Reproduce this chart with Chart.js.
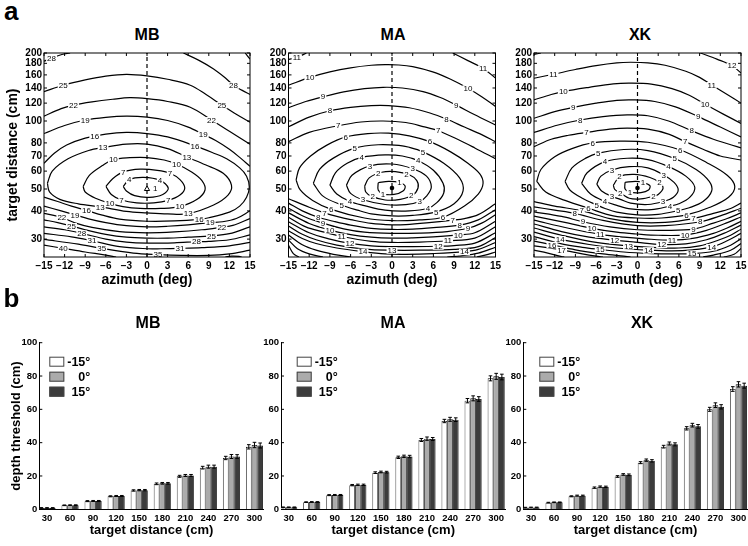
<!DOCTYPE html>
<html>
<head>
<meta charset="utf-8">
<script src="https://cdn.jsdelivr.net/npm/chart.js@4.4.0/dist/chart.umd.min.js"></script>
<style>
body{margin:0;background:#fff;width:748px;height:546px;position:relative;overflow:hidden;font-family:"Liberation Sans",Arial,sans-serif;}
canvas{position:absolute;}
.lbl{position:absolute;font-weight:bold;line-height:1;}
.ttl{position:absolute;width:100px;text-align:center;font-weight:bold;font-size:16px;line-height:1;}
</style>
</head>
<body>
<canvas id="cMB" width="256" height="250" style="left:0;top:45px"></canvas>
<canvas id="cMA" width="256" height="250" style="left:250px;top:45px"></canvas>
<canvas id="cXK" width="253" height="250" style="left:495px;top:45px"></canvas>
<canvas id="bMB" width="270" height="246" style="left:0;top:300px"></canvas>
<canvas id="bMA" width="270" height="246" style="left:245px;top:300px"></canvas>
<canvas id="bXK" width="258" height="246" style="left:490px;top:300px"></canvas>

<div class="lbl" style="left:4px;top:-2.5px;font-size:26px">a</div>
<div class="lbl" style="left:3.5px;top:284.5px;font-size:26px">b</div>
<div class="ttl" style="left:97px;top:27px">MB</div>
<div class="ttl" style="left:343px;top:27px">MA</div>
<div class="ttl" style="left:590px;top:27px">XK</div>
<div class="ttl" style="left:98px;top:315px">MB</div>
<div class="ttl" style="left:343px;top:315px">MA</div>
<div class="ttl" style="left:592px;top:315px">XK</div>

<script>
// axes
var azTicks = [-15,-12,-9,-6,-3,0,3,6,9,12,15];
var distTicks = [30,40,50,60,70,80,100,120,140,160,180,200];

// panel a: contour lines [azimuth, distance]
var mbLines = [
    [[-15,184],[-13.9,190],[-12.4,197],[-11.2,200]],
    [[5.3,200],[7.5,186],[9.7,170],[11.2,157],[12.6,144],[13.8,137],[15,131]],
    [[14.3,200],[15,188]],
    [[-15,135],[-12.2,144],[-9,152],[-6,158],[-3,161],[0,158.5],[3,153],[6.3,144],[8.6,131],[10.9,117.6],[13,107],[15,98.7]],
    [[-15,105],[-12.5,113.5],[-10.7,117.6],[-8,121.5],[-5,124.8],[-2.5,126.8],[0,125.5],[3,122],[6.3,115],[9.4,101],[12,90],[15,79]],
    [[-15,88],[-12,95.5],[-9,101],[-6,103.8],[-3,105],[0,104],[3,100.5],[6,94],[8.2,87.3],[10,82],[12,75],[13.5,69],[15,63]],
    [[-15,65],[-13.5,72],[-11.7,78.3],[-9,84],[-6,87.5],[-3,89],[0,88],[3,85],[7,77.6],[9.5,72.5],[11.6,68],[13.5,62],[14.5,57],[14.9,51],[14.5,46],[13.5,42],[12,39.5],[9,37.3],[7.6,36.7],[4,36.1],[0,36],[-4,36.8],[-6.5,38.3],[-8.8,40.2],[-11,42],[-13,44],[-15,46]],
    [[-14.5,53],[-13.8,60],[-11.5,68],[-8.5,74],[-6.4,76.3],[-3,79],[0,79],[3,75.5],[5.8,69.3],[8.5,64],[11.1,58.7],[12.3,52],[11.8,47],[9.7,42.5],[6,38.9],[3,38.8],[0,39.2],[-3,39.8],[-6.8,41.7],[-10,43],[-12.7,45],[-14.2,48.5],[-14.5,53]],
    [[-9.3,51.3],[-8.4,57.5],[-6.5,63.5],[-4.9,67.5],[-2.5,68.8],[0,68.9],[2.5,67.2],[4.3,64.5],[6.5,59.5],[8,54.5],[8.45,49.5],[7.3,45],[4.8,41.8],[2,41],[-1,41],[-3.5,41.8],[-5.4,43.2],[-7.5,45.5],[-9,48.5],[-9.3,51.3]],
    [[-5.97,51.3],[-5,55.5],[-3.45,59.5],[-1,61.2],[1.5,60.5],[3.35,58.7],[4.8,55],[5.5,50.5],[4.8,47],[3.1,44.5],[1,43.4],[-1.5,43.4],[-3.7,44.7],[-5.2,47.3],[-5.97,51.3]],
    [[-3.45,51.3],[-2.6,55],[-0.5,56.3],[1.9,54.6],[3.1,50.4],[2.3,47.3],[0.3,45.9],[-1.8,46.7],[-3,49],[-3.45,51.3]],
    [[15,40],[13,37],[11,35.8],[9.2,35.5],[6,34.7],[3,34.2],[0,34],[-3,34.4],[-6,35.5],[-8.5,36.9],[-10.5,38.4],[-12.5,40],[-15,42]],
    [[15,37],[12.5,34.5],[10.9,33.9],[8,33],[4,32.3],[0,32],[-4,32.4],[-8,33.8],[-10.5,35.4],[-12.4,37.4],[-15,39]],
    [[15,34],[12,31.7],[9.4,31],[6,30.6],[3,30.3],[0,30.3],[-3,30.6],[-6,31.5],[-9,33],[-11,34.3],[-13,35.5],[-15,36.5]],
    [[15,31.3],[12,29.8],[9,29.3],[7.2,29.2],[4,28.9],[0,28.8],[-3,29.1],[-6,30],[-9.5,31.8],[-12,33],[-15,34]],
    [[15,29],[12,28],[8,27.5],[4.8,27.3],[2,27.2],[0,27.2],[-4,27.8],[-8,29.5],[-11,30.7],[-15,31.8]],
    [[15,26.8],[12,25.8],[9,25.4],[5,25.4],[1.6,25.6],[-2,26],[-6.6,27.3],[-10,28.5],[-15,29.9]],
    [[-15,28.2],[-12.2,27.3],[-9,26.3],[-6,25.5],[-4.5,25]],
    [[11.4,25],[12.3,25.2],[13.4,25.15],[13.8,25]]
];
var mbText = [
    ['28',-13.9,190],['25',-12.2,144],['22',-10.7,117.6],['19',-9,101],['16',-7.6,85.8],['13',-6.4,76.3],['10',-4.9,67.5],['7',-3.45,59.5],['4',-2.6,55],['1',1.2,50.2],
    ['4',1.9,54.6],['7',3.35,58.7],['10',4.3,64.5],['13',5.8,69.3],['16',7,77.6],['19',8.2,87.3],['22',9.4,101],['25',10.9,117.6],['28',12.6,144],
    ['7',-3.7,44.7],['10',-5.4,43.2],['13',-6.8,41.7],['16',-8.8,40.2],['19',-10.5,38.4],['22',-12.4,37.4],['25',-11,34.3],['28',-9.5,31.8],['31',-8,29.5],['35',-6.6,27.3],['40',-12.2,27.3],
    ['7',3.1,44.5],['10',4.8,41.8],['13',6,38.9],['16',7.6,36.7],['19',9.2,35.5],['22',10.9,33.9],['25',9.4,31],['28',7.2,29.2],['31',4.8,27.3],['35',1.6,25.6]
];

var maLines = [
    [[-15,187],[-13.8,191],[-12.4,200]],
    [[8.8,200],[11,185],[13.2,171],[15,155]],
    [[-15,144],[-11.9,156],[-9,165],[-6,172],[-3,176.5],[-1,177.5],[1,177],[3,174],[5.9,165],[8.5,153],[11,139.6],[13,128],[15,116]],
    [[-15,114.5],[-12.5,122],[-10,128],[-7,134.5],[-4,139],[-1.3,141],[1.5,140],[4.5,135],[7,127],[9.3,117.6],[12,106.5],[15,96]],
    [[-15,94.3],[-12,104],[-9,111],[-6,115],[-3,117],[-0.5,117],[2.5,114.5],[5.5,108.5],[7.9,102],[10.5,94],[13,87],[15,81]],
    [[-15,81],[-12,89],[-7.8,95.3],[-4.5,99],[-1.3,100],[2,98.5],[4.5,94.5],[6.7,90.5],[9.5,83],[12,76],[15,68]],
    [[-13.9,54.8],[-13.4,62],[-11.8,70],[-9.5,78],[-6.7,85],[-3.5,88],[-0.5,88.3],[2.5,86],[5.5,81],[8.5,73],[11,65],[12.7,58.5],[13.2,53],[12.5,47.5],[10.5,42],[7.4,37.5],[4,36.5],[0,36.2],[-4,37.2],[-8.8,40.6],[-11.5,44.5],[-13.3,49.5],[-13.9,54.8]],
    [[-11.4,53],[-10.5,61],[-8.5,68.5],[-5.4,75.8],[-2,78.5],[1,78],[2.5,76.5],[4.5,73],[7.5,65],[9.8,56],[10.3,49],[9,43],[6.4,39.6],[3,38.2],[0,38],[-3,38.8],[-5,40.3],[-7.3,42.5],[-10,46.5],[-11.4,53]],
    [[-9,52],[-8.2,59],[-6.5,65],[-4.4,69],[-1,70.8],[1.5,70],[3.8,66.7],[6,60.5],[7.4,53],[7.5,48],[6.5,43.5],[5.2,41.1],[2.5,40],[-1,40.3],[-4,42.2],[-6.1,44],[-8,47.5],[-9,52]],
    [[-6.6,52],[-5.8,57.5],[-3.2,63.3],[0,64.5],[3,61.5],[5,57],[5.7,51],[5,46.5],[4,44],[2,42.6],[-1,42.7],[-4.2,44.8],[-6,47.8],[-6.6,52]],
    [[-3.96,51.5],[-3.3,56],[-1.5,59.3],[0.5,59.7],[2.5,57.8],[3.6,54.5],[3.77,50.5],[3,47],[1.2,45],[-1,44.7],[-3,46.5],[-3.8,48.5],[-3.96,51.5]],
    [[-2,53.3],[-0.5,54],[1.1,53.4],[1.9,51.5],[1.6,49],[0.3,47.3],[-1.3,47.6],[-2,49.5],[-2,53.3]],
    [[15,43],[12.5,38.5],[10.5,37],[8.8,36.4],[5,35.4],[2,34.8],[0,34.7],[-3,35.2],[-6,36.6],[-8,37.8],[-9.8,39.2],[-12,41.5],[-15,45.3]],
    [[15,40.5],[12.5,36.5],[9.8,34.6],[6,33.7],[3,33.2],[0,33.1],[-3,33.5],[-6,34.6],[-8.5,36],[-10.7,37.5],[-13,40],[-15,43.3]],
    [[15,38.5],[13,35.3],[11,33.5],[8,32.4],[4,31.9],[0,31.8],[-4,32.2],[-7,33.3],[-10,35.3],[-12.5,37.5],[-15,41.1]],
    [[15,36],[12,32],[9.6,31.3],[6,30.7],[3,30.4],[0,30.3],[-3,30.6],[-6,31.4],[-9,32.9],[-12,35.2],[-15,39.2]],
    [[15,34],[12,30.3],[8.1,29.5],[4,29.1],[0,29],[-3,29.3],[-7.3,30.8],[-10,32.3],[-12.5,34],[-15,37.5]],
    [[15,32],[12,28.8],[9,28.1],[6.7,27.9],[3,27.8],[0,27.8],[-3,28],[-6.1,28.7],[-9,30],[-12,32],[-15,35.8]],
    [[15,30.5],[12.5,27.8],[9,27],[4,26.8],[0,26.8],[-4,27.1],[-8,28.2],[-11,29.8],[-13,31.5],[-15,34.3]],
    [[15,29],[12.5,27],[10.5,26.4],[6,25.9],[2,25.7],[-1,25.8],[-4.2,26.4],[-8,27.4],[-11,28.7],[-13,30.2],[-15,32.7]],
    [[15,27.6],[12.5,26],[10,25.3],[8,25]],
    [[-6,25],[-8.5,25.7],[-11,26.8],[-13,28.3],[-15,31.3]],
    [[15,26.3],[13.5,25.5],[12.3,25]],
    [[-10,25],[-12,25.8],[-13.7,27.2],[-15,29.7]],
    [[-13.5,25],[-14.3,25.9],[-15,28.2]]
];
var maText = [
    ['11',-13.8,191],['10',-11.9,156],['9',-10,128],['8',-9,111],['7',-7.8,95.3],['6',-6.7,85],['5',-5.4,75.8],['4',-4.4,69],['3',-3.2,63.3],['2',-2,58.4],
    ['11',13.2,171],['10',11,139.6],['9',9.3,117.6],['8',7.9,102],['7',6.7,90.5],['6',5.5,81],['5',4.5,73],['4',3.8,66.7],['3',3,61.5],['2',2.1,58],['1',1.1,53.4],
    ['1',-1.3,47.6],['2',-2.8,46.3],['3',-4.2,44.8],['4',-6.1,44],['5',-7.3,42.5],['6',-8.8,40.6],['7',-9.8,39.2],['8',-10.7,37.5],['9',-10,35.3],['10',-9,32.9],['11',-7.3,30.8],['12',-6.1,28.7],['14',-4.2,26.4],['13',0,26.8],
    ['2',2.8,46.8],['3',4,44],['4',5.2,41.1],['5',6.4,39.6],['6',7.4,37.5],['7',8.8,36.4],['8',9.8,34.6],['9',11,33.5],['10',9.6,31.3],['11',8.1,29.5],['12',6.7,27.9],['14',10.5,26.4]
];

var xkLines = [
    [[-15,197],[-14,200]],
    [[9.1,200],[11.5,188],[13.7,176],[15,163]],
    [[-15,154.6],[-12.2,161],[-9,169],[-6,176],[-3,181],[-1,182],[1.5,181],[4,176.5],[7,166],[9,156],[10.75,144.3],[13,131],[15,120]],
    [[-15,124],[-12.5,131],[-10.75,135],[-7,141],[-3.5,146],[-1,147],[2,145.5],[5,139],[7.5,130],[9.8,118.6],[12.5,107],[15,97.6]],
    [[-15,102.8],[-12,110],[-9.3,115],[-6,120],[-3,123.5],[-0.5,124],[2.5,122],[5.5,115.5],[8.8,104.6],[12,94],[15,85]],
    [[-15,89],[-11.5,96],[-8.3,101],[-5,104.5],[-1.5,106.4],[1.5,105.5],[4.5,100],[7.85,90.5],[11,83],[15,76]],
    [[-15,77],[-12.5,83],[-10,86.5],[-7.4,89],[-4,92],[-1.5,93],[1.5,92],[4.5,87.5],[6.9,81],[9.5,75],[12,70],[15,67.2]],
    [[-14.6,54],[-14,61],[-12,69.5],[-9.5,75.5],[-6.5,80],[-2.5,81.5],[1.5,80.5],[6.2,74.4],[10,65.5],[13,57.5],[14.1,51.3],[13.2,46],[10.5,41.5],[7.1,38.4],[3.5,37.2],[0,37.2],[-3.5,38],[-7.1,41.1],[-10.5,44.5],[-13.3,48.5],[-14.6,54]],
    [[-10.5,54],[-9.5,62],[-7.5,68.5],[-5.7,72.1],[-2,74.8],[1.5,74],[5.4,68.2],[8.5,61],[10.4,54],[10.75,49],[9.5,44],[7.5,41.3],[5.9,40.1],[3,38.6],[0,38.4],[-3,39.5],[-4.7,41],[-5.9,42.5],[-8,45.5],[-9.8,49.5],[-10.5,54]],
    [[-8.1,53],[-7.3,59],[-4.7,66.1],[-1.5,68.4],[1.5,67.5],[4.5,62.8],[7,57],[8.3,51],[7.6,46],[6,43],[4.7,42],[2,40.5],[-1,40.8],[-3,42.3],[-4.7,44],[-6.8,47.5],[-8.1,53]],
    [[-5.9,52.5],[-5.3,57],[-3.7,60.7],[-1.2,62.8],[1.5,62],[3.8,57.7],[5.3,53.5],[5.9,49.5],[5.2,46],[3.7,44],[1.5,42.7],[-1,43.3],[-2.5,45],[-3.7,46.4],[-5.2,49],[-5.9,52.5]],
    [[-3.5,52],[-2.6,56.7],[-0.5,58],[1.8,56.2],[3.2,53.4],[3.7,50.3],[3,47.3],[2.3,46.4],[0.5,45.2],[-1.2,45.5],[-2.5,48],[-3.3,49.8],[-3.5,52]],
    [[-1.8,53.5],[-0.3,54],[0.8,53.4],[1.8,51.8],[1.6,49.5],[0.5,48.2],[-1.1,48.4],[-1.8,50],[-1.8,53.5]],
    [[-15,44],[-12,42],[-8.1,40.1],[-4,37],[0,35.6],[4,35.6],[8.1,37],[11,39],[13.5,41],[15,43.3]],
    [[-15,41.7],[-12,40.3],[-9.1,39],[-5,36.3],[0,34.4],[4,34.4],[9.1,35.8],[12,38],[15,41.1]],
    [[-15,39.6],[-11,37.8],[-7.9,35.8],[-4,34],[0,33],[4,32.8],[8.1,33.2],[11,35.3],[13,37],[15,39.2]],
    [[-15,37.9],[-10,35.3],[-6.6,33.5],[-3,32.2],[0,31.6],[3,31.2],[6.9,31.3],[10,32.8],[12.5,35],[15,37.6]],
    [[-15,36.4],[-10,33.5],[-5.4,31.5],[-2,30.6],[1,30.1],[5,29.7],[8,30.2],[11,31.8],[13,33.6],[15,36]],
    [[-15,35],[-11,32.4],[-7,30.6],[-3.3,29.7],[0,29],[3.5,28.4],[7,28.6],[10,29.8],[12.5,31.8],[15,34.6]],
    [[-15,33.6],[-11,31.2],[-6,29],[-1.3,28],[2,27.6],[6,27.4],[9,28],[11.5,29.5],[13.5,31.2],[15,33.2]],
    [[-15,32.2],[-11.2,30],[-7,28.4],[-3,27.4],[1.6,26.8],[5,26.6],[8,26.9],[10.75,27.7],[13,29.5],[15,31.8]],
    [[-15,30.8],[-11,28.6],[-8,27.6],[-5.4,27],[-2,26.3],[2,25.9],[5,25.8],[7.9,25.9],[11,26.5],[13.5,28.2],[15,30.1]],
    [[-15,29.4],[-12.4,28.3],[-9,26.9],[-5,25.8],[-2,25.2],[-1,25]],
    [[9.5,25],[11,25.5],[13.5,26.8],[15,28.7]],
    [[-15,28],[-11,26.9],[-8,25.8],[-6,25.2],[-5,25]],
    [[12.5,25],[14,25.7],[15,27.3]],
    [[-15,26.8],[-13,26],[-11,25.1],[-10.6,25]]
];
var xkText = [
    ['11',-12.2,161],['10',-10.75,135],['9',-9.3,115],['8',-8.3,101],['7',-7.4,89],['6',-6.5,80],['5',-5.7,72.1],['4',-4.7,66.1],['3',-3.7,60.7],['2',-2.6,56.7],
    ['12',13.7,176],['11',10.75,144.3],['10',9.8,118.6],['9',8.8,104.6],['8',7.85,90.5],['7',6.9,81],['6',6.2,74.4],['5',5.4,68.2],['4',4.5,62.8],['3',3.8,57.7],['2',3.2,53.4],['1',0.8,53.4],
    ['1',-1.1,48.4],['2',-2.5,48],['3',-3.7,46.4],['4',-4.7,44],['5',-5.9,42.5],['6',-7.1,41.1],['7',-8.1,40.1],['8',-9.1,39],['9',-7.9,35.8],['10',-6.6,33.5],['11',-5.4,31.5],['12',-3.3,29.7],['13',-1.3,28],['14',-11.2,30],['15',-5.4,27],['16',-12.4,28.3],['17',-11,26.9],
    ['2',2.3,46.4],['3',3.7,44],['4',4.7,42],['5',5.9,40.1],['6',7.1,38.4],['7',8.1,37],['8',9.1,35.8],['9',8.1,33.2],['10',6.9,31.3],['11',5,29.7],['12',3.5,28.4],['14',1.6,26.8],['14',10.75,27.7],['15',7.9,25.9]
];

// panel b: depth thresholds (cm)
var distances = [30,60,90,120,150,180,210,240,270,300];
var catPos = [1,2,3,4,5,6,7,8,9,10];
var angleNames = ['-15\u00b0','0\u00b0','15\u00b0'];
var barColors = ['#ffffff','#ababab','#3c3c3c'];

var mbM15 = [0.8,2.4,4.9,7.8,11.3,15.3,19.8,25.0,30.8,37.5];
var mbZero = [0.8,2.5,5.0,8.0,11.5,15.6,20.3,25.6,31.7,38.6];
var mbP15 = [0.8,2.5,5.0,8.0,11.5,15.6,20.3,25.6,31.7,38.3];
var mbErrM15 = [0.2,0.2,0.3,0.3,0.4,0.5,0.6,0.8,1.0,1.3];
var mbErrZero = [0.2,0.2,0.3,0.3,0.4,0.5,0.6,0.9,1.2,1.6];
var mbErrP15 = [0.2,0.2,0.3,0.3,0.4,0.5,0.6,0.9,1.1,1.5];

var maM15 = [1.2,4.3,8.5,14.5,22.0,31.2,41.6,53.0,65.2,78.6];
var maZero = [1.2,4.4,8.6,14.7,22.4,31.8,42.4,54.0,66.6,79.8];
var maP15 = [1.2,4.4,8.6,14.7,22.3,31.7,42.2,53.8,66.2,79.4];
var maErrM15 = [0.2,0.2,0.3,0.4,0.5,0.7,0.9,1.0,1.3,1.5];
var maErrZero = [0.2,0.2,0.3,0.4,0.5,0.7,1.0,1.2,1.5,1.8];
var maErrP15 = [0.2,0.2,0.3,0.4,0.5,0.7,0.9,1.1,1.4,1.7];

var xkM15 = [1.0,4.0,7.8,13.0,19.7,28.0,37.6,48.6,60.0,72.2];
var xkZero = [1.1,4.2,8.2,13.6,20.9,29.5,39.5,50.5,62.5,75.0];
var xkP15 = [1.1,4.2,8.2,13.5,20.7,29.1,39.0,49.8,61.5,74.2];
var xkErrM15 = [0.2,0.2,0.3,0.4,0.5,0.6,0.8,1.0,1.2,1.4];
var xkErrZero = [0.2,0.2,0.3,0.4,0.5,0.7,0.9,1.1,1.4,1.6];
var xkErrP15 = [0.2,0.2,0.3,0.4,0.5,0.7,0.9,1.1,1.3,1.5];

var fontFam = '"Liberation Sans", Arial, sans-serif';
Chart.defaults.font.family = fontFam;
Chart.defaults.color = '#000';

// box + inward ticks like matlab
var framePlugin = {
    id: 'frame',
    afterDraw: function(chart) {
        var ctx = chart.ctx, a = chart.chartArea, xs = chart.scales.x, ys = chart.scales.y;
        ctx.save();
        ctx.strokeStyle = '#000';
        ctx.lineWidth = 1;
        ctx.strokeRect(a.left, a.top, a.right - a.left, a.bottom - a.top);
        ctx.beginPath();
        xs.ticks.forEach(function(t) {
            var p = xs.getPixelForValue(t.value);
            ctx.moveTo(p, a.bottom); ctx.lineTo(p, a.bottom - 3);
            ctx.moveTo(p, a.top); ctx.lineTo(p, a.top + 3);
        });
        ys.ticks.forEach(function(t) {
            var p = ys.getPixelForValue(t.value);
            ctx.moveTo(a.left, p); ctx.lineTo(a.left + 3, p);
            ctx.moveTo(a.right, p); ctx.lineTo(a.right - 3, p);
        });
        ctx.stroke();
        ctx.restore();
    }
};

function labelPlugin(labels) {
    return {
        id: 'clabels',
        afterDatasetsDraw: function(chart) {
            var ctx = chart.ctx, a = chart.chartArea, xs = chart.scales.x, ys = chart.scales.y;
            ctx.save();
            ctx.beginPath();
            ctx.rect(a.left, a.top, a.right - a.left, a.bottom - a.top);
            ctx.clip();
            ctx.font = '8px ' + fontFam;
            ctx.textAlign = 'center';
            ctx.textBaseline = 'middle';
            labels.forEach(function(l) {
                var px = xs.getPixelForValue(l[1]), py = ys.getPixelForValue(l[2]);
                var w = ctx.measureText(l[0]).width;
                ctx.fillStyle = '#fff';
                ctx.fillRect(px - w / 2 - 1, py - 3, w + 2, 6.5);
                ctx.fillStyle = '#000';
                ctx.fillText(l[0], px, py + 0.5);
            });
            ctx.restore();
        }
    };
}

function contourChart(id, lines, labels, dot, yTitle, yWidth, padRight) {
    var sets = [];
    lines.forEach(function(line) {
        sets.push({
            data: line.map(function(p) { return {x: p[0], y: p[1]}; }),
            borderColor: '#000', borderWidth: 1.2, pointRadius: 0, tension: 0.35, fill: false
        });
    });
    // dashed line at 0 deg
    sets.push({data: [{x: 0, y: 25}, {x: 0, y: 200}], borderColor: '#000', borderWidth: 1.2, borderDash: [4, 3], pointRadius: 0});
    if (dot == 'triangle') {
        sets.push({data: [{x: 0, y: 50}], showLine: false, pointStyle: 'triangle', pointRadius: 3, pointBorderColor: '#000', pointBackgroundColor: '#fff', pointBorderWidth: 1});
    } else {
        sets.push({data: [{x: 0, y: 50.5}], showLine: false, pointStyle: 'circle', pointRadius: 2.3, pointBorderColor: '#000', pointBackgroundColor: '#000', pointBorderWidth: 0});
    }
    new Chart(document.getElementById(id), {
        type: 'line',
        data: {datasets: sets},
        options: {
            responsive: false,
            animation: false,
            devicePixelRatio: 1,
            layout: {padding: {left: 0, top: 8, right: padRight, bottom: 0}},
            plugins: {legend: {display: false}, tooltip: {enabled: false}},
            scales: {
                x: {
                    type: 'linear', min: -15, max: 15, offset: false,
                    grid: {display: false, drawTicks: false}, border: {display: false},
                    afterBuildTicks: function(s) { s.ticks = azTicks.map(function(v) { return {value: v}; }); },
                    afterFit: function(s) { s.height = 38; s.paddingLeft = 0; s.paddingRight = 0; },
                    ticks: {autoSkip: false, maxRotation: 0, minRotation: 0, padding: 3, font: {size: 10, weight: 'bold'},
                        callback: function(v) { return v < 0 ? '\u2212' + (-v) : String(v); }},
                    title: {display: true, text: 'azimuth (deg)', font: {size: 14, weight: 'bold'}, padding: {top: 0, bottom: 6}}
                },
                y: {
                    type: 'logarithmic', min: 25, max: 200,
                    grid: {display: false, drawTicks: false}, border: {display: false},
                    afterBuildTicks: function(s) { s.ticks = distTicks.map(function(v) { return {value: v}; }); },
                    afterFit: function(s) { s.width = yWidth; s.paddingTop = 0; s.paddingBottom = 0; },
                    ticks: {autoSkip: false, padding: 2, font: {size: 10, weight: 'bold'},
                        callback: function(v) { return String(v); }},
                    title: {display: yTitle, text: 'target distance (cm)', font: {size: 14, weight: 'bold'}, padding: {top: 4.6, bottom: 0}}
                }
            }
        },
        plugins: [framePlugin, labelPlugin(labels)]
    });
}

function errPlugin(errs) {
    return {
        id: 'errbars',
        afterDatasetsDraw: function(chart) {
            var ctx = chart.ctx, ys = chart.scales.y;
            ctx.save();
            ctx.strokeStyle = '#000';
            ctx.lineWidth = 1;
            ctx.beginPath();
            chart.data.datasets.forEach(function(ds, i) {
                chart.getDatasetMeta(i).data.forEach(function(bar, j) {
                    var v = ds.data[j].y, e = errs[i][j];
                    var t = ys.getPixelForValue(v + e), b = ys.getPixelForValue(v - e);
                    ctx.moveTo(bar.x, t); ctx.lineTo(bar.x, b);
                    ctx.moveTo(bar.x - 1.8, t); ctx.lineTo(bar.x + 1.8, t);
                    ctx.moveTo(bar.x - 1.8, b); ctx.lineTo(bar.x + 1.8, b);
                });
            });
            ctx.stroke();
            ctx.restore();
        }
    };
}

function legendPlugin(dx) {
    return {
        id: 'boxlegend',
        afterDraw: function(chart) {
            var ctx = chart.ctx, a = chart.chartArea, ys = chart.scales.y;
            ctx.save();
            // inward ticks on the y axis
            ctx.strokeStyle = '#000';
            ctx.lineWidth = 1;
            ctx.beginPath();
            ys.ticks.forEach(function(t) {
                var p = ys.getPixelForValue(t.value);
                ctx.moveTo(a.left, p); ctx.lineTo(a.left + 3, p);
            });
            ctx.stroke();
            ctx.font = 'bold 12.5px ' + fontFam;
            ctx.textAlign = 'right';
            ctx.textBaseline = 'middle';
            chart.data.datasets.forEach(function(ds, i) {
                var x = a.left + dx, y = a.top + 14 + 15 * i;
                ctx.fillStyle = ds.backgroundColor;
                ctx.fillRect(x, y, 15, 10);
                ctx.strokeStyle = '#444';
                ctx.strokeRect(x + 0.5, y + 0.5, 14, 9);
                ctx.fillStyle = '#000';
                ctx.fillText(ds.label, x + 41, y + 5.5);
            });
            ctx.restore();
        }
    };
}

function barChart(id, vals, errs, yTitle, yWidth, padRight, legendDx) {
    var sets = vals.map(function(v, i) {
        return {
            label: angleNames[i],
            data: v.map(function(y, j) { return {x: catPos[j], y: y}; }),
            backgroundColor: barColors[i], borderColor: '#000', borderWidth: 0.8,
            categoryPercentage: 0.74, barPercentage: 1
        };
    });
    new Chart(document.getElementById(id), {
        type: 'bar',
        data: {datasets: sets},
        options: {
            responsive: false,
            animation: false,
            devicePixelRatio: 1,
            layout: {padding: {left: 0, top: 42.7, right: padRight, bottom: 0}},
            plugins: {legend: {display: false}, tooltip: {enabled: false}},
            scales: {
                x: {
                    type: 'linear', min: 0.665, max: 10.4, offset: false,
                    grid: {display: false, drawTicks: false}, border: {display: true, color: '#000', width: 1},
                    afterBuildTicks: function(s) { s.ticks = catPos.map(function(v) { return {value: v}; }); },
                    afterFit: function(s) { s.height = 36.7; s.paddingLeft = 0; s.paddingRight = 0; },
                    ticks: {autoSkip: false, maxRotation: 0, minRotation: 0, padding: 3, font: {size: 9.5, weight: 'bold'},
                        callback: function(v) { return String(distances[v - 1]); }},
                    title: {display: true, text: 'target distance (cm)', font: {size: 13, weight: 'bold'}, padding: {top: 0, bottom: 7.5}}
                },
                y: {
                    type: 'linear', min: 0, max: 100,
                    grid: {display: false, drawTicks: false}, border: {display: true, color: '#000', width: 1},
                    afterFit: function(s) { s.width = yWidth; s.paddingTop = 0; s.paddingBottom = 0; },
                    ticks: {stepSize: 20, padding: 2, font: {size: 9.5, weight: 'bold'}},
                    title: {display: yTitle, text: 'depth threshold (cm)', font: {size: 13, weight: 'bold'}, padding: {top: 9, bottom: 0}}
                }
            }
        },
        plugins: [errPlugin(errs), legendPlugin(legendDx)]
    });
}

contourChart('cMB', mbLines, mbText, 'triangle', true, 44, 6);
contourChart('cMA', maLines, maText, 'dot', false, 38.5, 10.5);
contourChart('cXK', xkLines, xkText, 'dot', false, 39, 7);

barChart('bMB', [mbM15, mbZero, mbP15], [mbErrM15, mbErrZero, mbErrP15], true, 39.3, 6.3, 10);
barChart('bMA', [maM15, maZero, maP15], [maErrM15, maErrZero, maErrP15], false, 36, 9.6, 15.7);
barChart('bXK', [xkM15, xkZero, xkP15], [xkErrM15, xkErrZero, xkErrP15], false, 33.3, 0.3, 16);
</script>
</body>
</html>
